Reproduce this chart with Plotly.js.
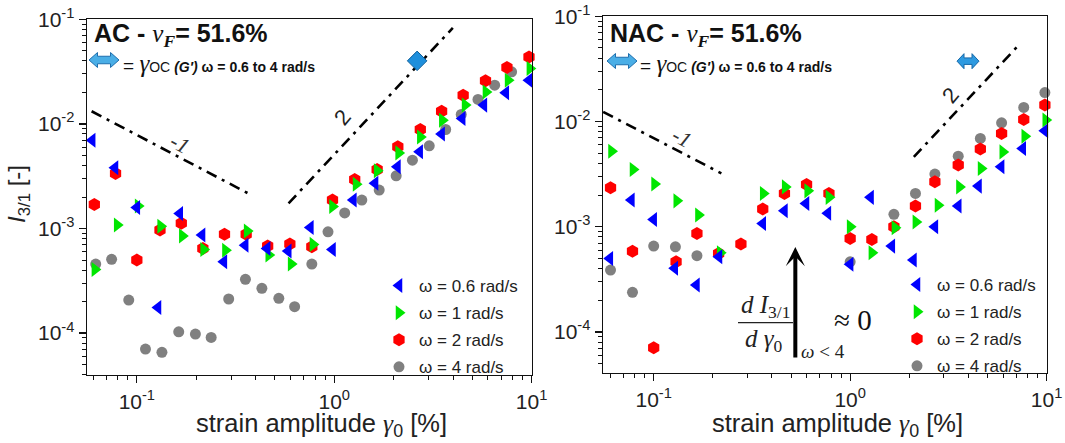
<!DOCTYPE html>
<html><head><meta charset="utf-8">
<script src="https://cdn.plot.ly/plotly-3.0.1.min.js"></script>
<style>html,body{margin:0;padding:0;background:#fff;} #chart{width:1065px;height:443px;}</style>
</head><body><div id="chart"></div>
<script>
// ---------- AC panel (left) ----------
const acX_w06 = [0.0594, 0.0775, 0.1, 0.128, 0.165, 0.214, 0.276, 0.354, 0.457, 0.585, 0.757, 0.98, 1.25, 1.61, 2.09, 2.71, 3.5, 4.45, 5.73, 7.4, 9.7];
const acY_w06 = [6.98e-3, 3.8e-3, 1.59e-3, 1.76e-4, 1.39e-3, 8.65e-4, 4.8e-4, 6.93e-4, 6.45e-4, 6.08e-4, 1.02e-3, 6.3e-4, 1.87e-3, 2.7e-3, 3.89e-3, 5.4e-3, 7.98e-3, 1.127e-2, 1.51e-2, 1.98e-2, 2.61e-2];
const acX_w1 = [0.0613, 0.0795, 0.1015, 0.132, 0.17, 0.218, 0.281, 0.362, 0.466, 0.605, 0.78, 0.98, 1.29, 1.65, 2.12, 2.73, 3.53, 4.6, 5.87, 7.6, 9.8];
const acY_w1 = [4.06e-4, 1.08e-3, 1.64e-3, 1.05e-3, 8.5e-4, 6.3e-4, 6.2e-4, 9.45e-4, 5.57e-4, 4.57e-4, 7.05e-4, 1.62e-3, 2.65e-3, 3.56e-3, 5.28e-3, 7.5e-3, 1.084e-2, 1.51e-2, 2.02e-2, 2.61e-2, 3.38e-2];
const acX_w2 = [0.0609, 0.078, 0.1, 0.131, 0.168, 0.216, 0.278, 0.358, 0.46, 0.596, 0.77, 0.98, 1.27, 1.65, 2.1, 2.73, 3.5, 4.5, 5.84, 7.5, 9.7];
const acY_w2 = [1.7e-3, 3.36e-3, 4.99e-4, 9.66e-4, 1.12e-3, 6.45e-4, 8.8e-4, 8.8e-4, 6.8e-4, 7.1e-4, 6.7e-4, 1.87e-3, 2.94e-3, 3.67e-3, 6.03e-3, 8.83e-3, 1.32e-2, 1.88e-2, 2.58e-2, 3.46e-2, 4.36e-2];
const acX_w4 = [0.0619, 0.0745, 0.091, 0.1106, 0.134, 0.163, 0.198, 0.238, 0.292, 0.355, 0.43, 0.524, 0.63, 0.77, 0.93, 1.13, 1.38, 1.69, 2.06, 2.49, 3.03, 3.67, 4.4, 5.35, 6.5, 7.92];
const acY_w4 = [4.57e-4, 5.07e-4, 2.07e-4, 7.05e-5, 6.55e-5, 1.03e-4, 9.8e-5, 9.1e-5, 2.12e-4, 3.27e-4, 2.68e-4, 2.15e-4, 1.79e-4, 4.57e-4, 9.3e-4, 1.41e-3, 1.87e-3, 2.33e-3, 3.19e-3, 4.5e-3, 6.16e-3, 8.83e-3, 1.23e-2, 1.71e-2, 2.34e-2, 3.14e-2];
const acGoc = {x: [2.63], y: [0.04]};
const acSlopeM1 = {x: [0.059, 0.364], y: [0.0132, 0.00218]};
const acSlope2 = {x: [0.587, 3.99], y: [0.00174, 0.0826]};

// ---------- NAC panel (right) ----------
const nacX_w06 = [0.0598, 0.077, 0.1, 0.128, 0.165, 0.215, 0.359, 0.463, 0.596, 0.77, 1.0, 1.27, 1.63, 2.1, 2.7, 3.55, 4.5, 5.87, 7.56, 9.8];
const nacY_w06 = [5.0e-4, 1.79e-3, 1.17e-3, 4.02e-4, 2.79e-4, 5.18e-4, 1.07e-3, 1.42e-3, 1.66e-3, 1.34e-3, 4.4e-4, 1.9e-3, 6.54e-4, 4.82e-4, 9.97e-4, 1.57e-3, 2.43e-3, 3.71e-3, 5.54e-3, 8.15e-3];
const nacX_w1 = [0.061, 0.0785, 0.101, 0.131, 0.169, 0.218, 0.361, 0.467, 0.608, 0.78, 1.0, 1.29, 1.69, 2.16, 2.8, 3.6, 4.64, 5.98, 7.74, 9.9];
const nacY_w1 = [5.22e-3, 3.5e-3, 2.54e-3, 1.76e-3, 1.29e-3, 5.65e-4, 2.07e-3, 2.39e-3, 2.19e-3, 1.9e-3, 9.97e-4, 5.65e-4, 9.77e-4, 1.11e-3, 1.6e-3, 2.39e-3, 3.58e-3, 5.14e-3, 7.24e-3, 1.03e-2];
const nacX_w2 = [0.0603, 0.078, 0.1, 0.13, 0.166, 0.214, 0.278, 0.359, 0.463, 0.6, 0.78, 1.0, 1.29, 1.67, 2.15, 2.7, 3.55, 4.6, 5.9, 7.65, 9.8];
const nacY_w2 = [2.34e-3, 5.86e-4, 7.08e-5, 4.64e-4, 8.63e-4, 5.57e-4, 6.84e-4, 1.47e-3, 2.07e-3, 2.52e-3, 2.07e-3, 7.74e-4, 7.56e-4, 1.0e-3, 1.57e-3, 2.67e-3, 3.85e-3, 5.46e-3, 7.69e-3, 1.045e-2, 1.43e-2];
const nacX_w4 = [0.0603, 0.078, 0.1, 0.129, 0.166, 1.0, 1.67, 2.15, 2.7, 3.55, 4.6, 5.9, 7.65, 9.8];
const nacY_w4 = [3.87e-4, 2.38e-4, 6.54e-4, 6.44e-4, 5.3e-4, 4.64e-4, 1.31e-3, 2.07e-3, 3.16e-3, 4.68e-3, 6.9e-3, 9.7e-3, 1.36e-2, 1.88e-2];
const nacGoc = {x: [3.98], y: [0.0374]};
const nacSlopeM1 = {x: [0.0553, 0.221], y: [0.01233, 0.00321]};
const nacSlope2 = {x: [2.11, 7.21], y: [0.00461, 0.0531]};
const nacArrow = {x: 0.526, yHead: 6.4e-4};

// ---------- labels ----------
const seriesNames = ['ω = 0.6 rad/s', 'ω = 1 rad/s', 'ω = 2 rad/s', 'ω = 4 rad/s'];
const xTickVals = [0.1, 1, 10];
const xTickText = ['10<sup>-1</sup>', '10<sup>0</sup>', '10<sup>1</sup>'];
const yTickVals = [1e-4, 1e-3, 1e-2, 1e-1];
const yTickText = ['10<sup>-4</sup>', '10<sup>-3</sup>', '10<sup>-2</sup>', '10<sup>-1</sup>'];

const W = 1065, H = 443;
const SANS = 'Liberation Sans, Arial, sans-serif';
const SERIF = 'Liberation Serif, Times New Roman, serif';
const px = v => v / W, py = v => 1 - v / H;

function minorVals(lo, hi) { const out = []; for (let e = lo; e < hi; e++) for (let m = 2; m <= 9; m++) out.push(m * Math.pow(10, e)); return out; }

const colors = {w06: '#0000ff', w1: '#00e600', w2: '#ff0000', w4: '#808080'};
const sym = {w06: 'triangle-left', w1: 'triangle-right', w2: 'hexagon', w4: 'circle'};
const size = {w06: 13, w1: 13, w2: 13, w4: 11};
const rank = {w06: 1, w1: 2, w2: 3, w4: 4};

function series(x, y, key, name, xa, ya, leg) {
  return {x, y, type: 'scatter', mode: 'markers', name, xaxis: xa, yaxis: ya, legend: leg, legendgroup: leg + key,
    legendrank: rank[key], cliponaxis: false, marker: {symbol: sym[key], size: size[key], color: colors[key], line: {width: 0}}};
}
function slope(s, xa, ya) {
  return {x: s.x, y: s.y, type: 'scatter', mode: 'lines', xaxis: xa, yaxis: ya, showlegend: false, hoverinfo: 'skip',
    line: {color: '#000', width: 2.6, dash: '11px,6px,3px,6px'}};
}

const traces = [
  slope(acSlopeM1, 'x', 'y'), slope(acSlope2, 'x', 'y'),
  series(acX_w4, acY_w4, 'w4', seriesNames[3], 'x', 'y', 'legend'),
  series(acX_w2, acY_w2, 'w2', seriesNames[2], 'x', 'y', 'legend'),
  series(acX_w1, acY_w1, 'w1', seriesNames[1], 'x', 'y', 'legend'),
  series(acX_w06, acY_w06, 'w06', seriesNames[0], 'x', 'y', 'legend'),
  {x: acGoc.x, y: acGoc.y, type: 'scatter', mode: 'markers', xaxis: 'x', yaxis: 'y', showlegend: false, cliponaxis: false,
    marker: {symbol: 'diamond', size: 15, color: '#1e8fdc', line: {color: '#0b5c98', width: 1}}},
  slope(nacSlopeM1, 'x2', 'y2'), slope(nacSlope2, 'x2', 'y2'),
  series(nacX_w4, nacY_w4, 'w4', seriesNames[3], 'x2', 'y2', 'legend2'),
  series(nacX_w2, nacY_w2, 'w2', seriesNames[2], 'x2', 'y2', 'legend2'),
  series(nacX_w1, nacY_w1, 'w1', seriesNames[1], 'x2', 'y2', 'legend2'),
  series(nacX_w06, nacY_w06, 'w06', seriesNames[0], 'x2', 'y2', 'legend2'),
];

function xAxis(domain, range, anchor) {
  return {type: 'log', domain, range, anchor, showline: true, linecolor: '#111', linewidth: 1.4, mirror: true,
    ticks: 'outside', ticklen: 7, tickwidth: 1.3, tickcolor: '#111', tickmode: 'array', tickvals: xTickVals, ticktext: xTickText,
    tickfont: {family: SANS, size: 21, color: '#222'}, showgrid: false, zeroline: false, automargin: false,
    minor: {ticks: 'outside', ticklen: 4, tickwidth: 1, tickcolor: '#111', tickmode: 'array', tickvals: minorVals(-2, 1), showgrid: false}};
}
function yAxis(domain, range, anchor) {
  return {type: 'log', domain, range, anchor, showline: true, linecolor: '#111', linewidth: 1.4, mirror: true,
    ticks: 'outside', ticklen: 7, tickwidth: 1.3, tickcolor: '#111', tickmode: 'array', tickvals: yTickVals, ticktext: yTickText,
    tickfont: {family: SANS, size: 21, color: '#222'}, showgrid: false, zeroline: false, automargin: false,
    minor: {ticks: 'outside', ticklen: 4, tickwidth: 1, tickcolor: '#111', tickmode: 'array', tickvals: minorVals(-5, -1), showgrid: false}};
}

function dblArrow(w, h, bh, hl) {
  const hw = w / 2;
  return `M${-hw},0 L${-hw + hl},${h / 2} L${-hw + hl},${bh / 2} L${hw - hl},${bh / 2} L${hw - hl},${h / 2} L${hw},0 L${hw - hl},${-h / 2} L${hw - hl},${-bh / 2} L${-hw + hl},${-bh / 2} L${-hw + hl},${-h / 2} Z`;
}

const titleAC = '<b>AC - <span style="font-family:Liberation Serif;font-weight:normal"><i>ν</i></span><sub><span style="font-family:Liberation Serif"><i>F</i></span></sub>= 51.6%</b>';
const titleNAC = '<b>NAC - <span style="font-family:Liberation Serif;font-weight:normal"><i>ν</i></span><sub><span style="font-family:Liberation Serif"><i>F</i></span></sub>= 51.6%</b>';
const gocText = '<span style="font-size:19px">= </span><span style="font-family:Liberation Serif;font-size:25px"><i>γ</i></span><span style="font-size:14px">OC </span><b><i>(G′)</i> <span style="font-size:14px">ω = 0.6 to 4 rad/s</span></b>';

const ann = [];
function A(o) { ann.push(Object.assign({xref: 'paper', yref: 'paper', showarrow: false, xanchor: 'center', yanchor: 'middle', font: {family: SANS, size: 16, color: '#111'}}, o)); }
A({x: px(92), y: py(35), xanchor: 'left', text: titleAC, font: {family: SANS, size: 25, color: '#111'}});
A({x: px(608), y: py(35), xanchor: 'left', text: titleNAC, font: {family: SANS, size: 25, color: '#111'}});
A({x: px(121), y: py(63), xanchor: 'left', text: gocText, font: {family: SANS, size: 14, color: '#111'}});
A({x: px(638), y: py(63), xanchor: 'left', text: gocText, font: {family: SANS, size: 14, color: '#111'}});
A({x: px(19), y: py(194), textangle: -90, text: '<i>I</i><sub>3/1</sub> [-]', font: {family: SANS, size: 24, color: '#222'}});
A({x: px(321), y: py(425), text: 'strain amplitude <span style="font-family:Liberation Serif"><i>γ</i></span><sub>0</sub> [%]', font: {family: SANS, size: 25.5, color: '#222'}});
A({x: px(837), y: py(425), text: 'strain amplitude <span style="font-family:Liberation Serif"><i>γ</i></span><sub>0</sub> [%]', font: {family: SANS, size: 25.5, color: '#222'}});
A({x: px(180), y: py(143), textangle: 28, text: '<i>-1</i>', font: {family: SERIF, size: 22, color: '#333'}});
A({x: px(682), y: py(137), textangle: 28, text: '<i>-1</i>', font: {family: SERIF, size: 22, color: '#333'}});
A({x: px(342), y: py(117), textangle: -50, text: '2', font: {family: SANS, size: 22, color: '#222'}});
A({x: px(950), y: py(95), textangle: -50, text: '2', font: {family: SANS, size: 22, color: '#222'}});
A({x: px(765), y: py(306), text: '<i>d I</i><sub>3/1</sub>', font: {family: SERIF, size: 25, color: '#222'}});
A({x: px(764), y: py(340), text: '<i>d γ</i><sub>0</sub>', font: {family: SERIF, size: 25, color: '#222'}});
A({x: px(853), y: py(320), text: '≈ 0', font: {family: SERIF, size: 29, color: '#111'}});
A({x: px(799), y: py(351), xanchor: 'left', text: '<i>ω</i> < 4', font: {family: SERIF, size: 19, color: '#222'}});
ann.push({xref: 'x2', yref: 'y2', x: Math.log10(nacArrow.x), y: Math.log10(nacArrow.yHead), ax: 0, ay: 112, axref: 'pixel', ayref: 'pixel',
  showarrow: true, arrowhead: 3, arrowsize: 0.8, arrowwidth: 4, arrowcolor: '#000', text: ''});

const shapes = [
  {type: 'path', xref: 'paper', yref: 'paper', xsizemode: 'pixel', ysizemode: 'pixel', xanchor: px(104), yanchor: py(60),
    path: dblArrow(30, 15, 7.5, 8.5), fillcolor: '#4aaee6', line: {color: '#1f6fae', width: 1}},
  {type: 'path', xref: 'paper', yref: 'paper', xsizemode: 'pixel', ysizemode: 'pixel', xanchor: px(622), yanchor: py(61),
    path: dblArrow(30, 15, 7.5, 8.5), fillcolor: '#4aaee6', line: {color: '#1f6fae', width: 1}},
  {type: 'path', xref: 'x2', yref: 'y2', xsizemode: 'pixel', ysizemode: 'pixel', xanchor: nacGoc.x[0], yanchor: nacGoc.y[0],
    path: dblArrow(22, 15, 6.5, 7), fillcolor: '#2e9ae0', line: {color: '#1668a8', width: 1}},
  {type: 'line', xref: 'paper', yref: 'paper', x0: px(738), x1: px(793), y0: py(322.7), y1: py(322.7), line: {color: '#222', width: 1.2}},
];

const legendBase = {xanchor: 'left', yanchor: 'top', bgcolor: 'rgba(0,0,0,0)', borderwidth: 0, traceorder: 'grouped',
  tracegroupgap: 2, font: {family: SANS, size: 17, color: '#222'}, itemwidth: 30};

const layout = {
  width: W, height: H, margin: {l: 0, r: 0, t: 0, b: 0}, paper_bgcolor: '#fff', plot_bgcolor: '#fff',
  font: {family: SANS, color: '#222'}, showlegend: true,
  xaxis: xAxis([87 / W, 532 / W], [-1.2525, 1.002], 'y'),
  yaxis: yAxis([1 - 375 / H, 1 - 19 / H], [-4.40, -0.998], 'x'),
  xaxis2: xAxis([603 / W, 1047 / W], [-1.258, 1.002], 'y2'),
  yaxis2: yAxis([1 - 373 / H, 1 - 16 / H], [-4.39, -0.998], 'x2'),
  legend: Object.assign({}, legendBase, {x: px(379), y: py(268)}),
  legend2: Object.assign({}, legendBase, {x: px(897), y: py(267)}),
  annotations: ann, shapes,
};

Plotly.newPlot('chart', traces, layout, {displayModeBar: false, staticPlot: true});
</script></body></html>
